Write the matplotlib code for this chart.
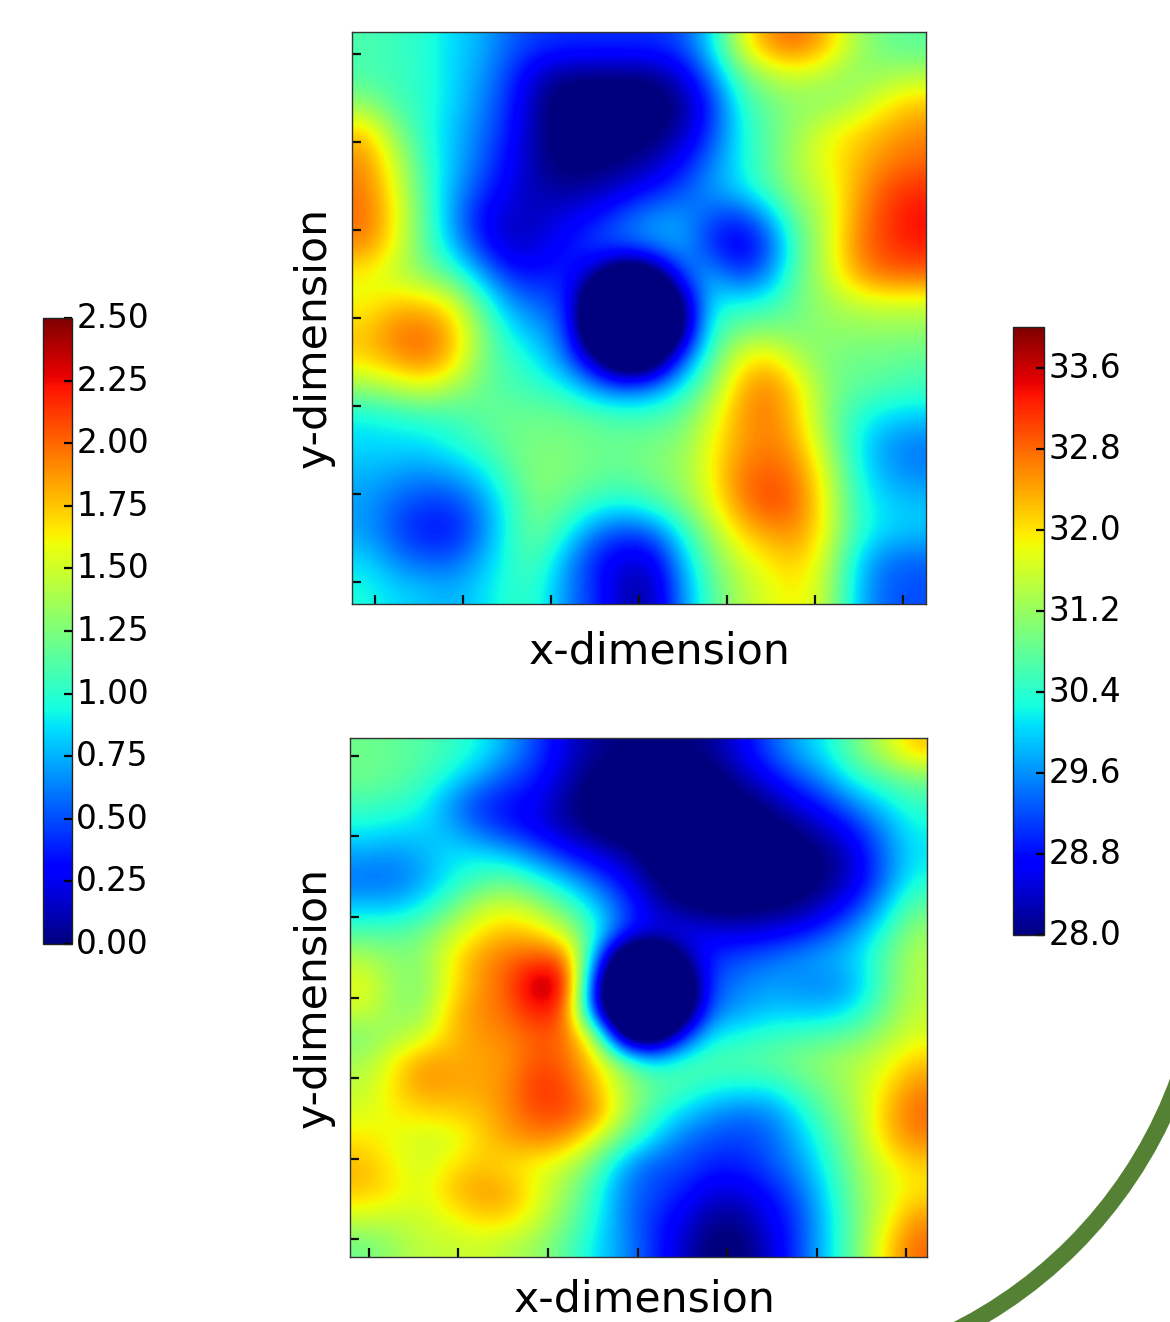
import matplotlib
matplotlib.use("Agg")
import matplotlib.pyplot as plt
from matplotlib.patches import Wedge
from matplotlib.transforms import ScaledTranslation
import numpy as np

W, H = 1170, 1322

top_field = [
 [1.1,1.05,1.0,.85,.75,.55,.45,.42,.42,.42,.42,.5,.85,1.5,1.9,2.0,1.8,1.4,1.2,1.15],
 [1.1,1.05,1.0,.85,.7,.45,.15,.02,0,0,.02,.2,.6,1.15,1.4,1.5,1.4,1.3,1.35,1.4],
 [1.3,1.1,1.0,.85,.65,.4,.05,-.1,-.1,-.1,-.1,.02,.4,.95,1.2,1.3,1.3,1.4,1.6,1.75],
 [1.75,1.3,1.0,.8,.6,.35,.05,-.1,-.1,-.1,-.05,.1,.45,.9,1.15,1.35,1.55,1.7,1.8,1.9],
 [1.9,1.5,1.05,.8,.55,.3,.05,-.05,-.05,0,.1,.3,.6,.9,1.15,1.4,1.6,1.75,1.9,2.0],
 [1.95,1.6,1.1,.75,.45,.25,.1,.05,.1,.2,.35,.5,.7,.85,1.1,1.35,1.5,1.8,2.05,2.15],
 [2.0,1.65,1.15,.7,.3,.15,.15,.25,.35,.55,.7,.7,.5,.4,.7,1.2,1.45,1.85,2.1,2.25],
 [1.9,1.6,1.15,.8,.4,.15,.2,.35,.5,.55,.65,.75,.4,.2,.45,1.1,1.45,1.9,2.1,2.2],
 [1.6,1.45,1.3,1.1,.75,.4,.35,.4,.05,-.5,-.3,.5,.75,.45,.65,1.15,1.45,1.8,2.0,2.0],
 [1.6,1.75,1.75,1.6,1.1,.7,.55,.45,-.6,-.8,-.8,-.1,.9,.95,1.0,1.2,1.35,1.45,1.5,1.5],
 [1.75,1.95,2.0,1.8,1.3,.9,.75,.5,-.6,-.8,-.8,-.1,1.0,1.25,1.3,1.25,1.3,1.3,1.3,1.3],
 [1.7,1.85,1.95,1.75,1.25,1.05,.9,.6,.1,-.5,-.3,.55,1.1,1.6,1.75,1.45,1.25,1.2,1.2,1.15],
 [1.3,1.4,1.5,1.35,1.2,1.1,1.05,.95,.7,.6,.7,.95,1.3,1.8,1.95,1.7,1.3,1.15,1.1,1.05],
 [.9,.95,1,1.05,1.15,1.2,1.2,1.2,1.15,1.1,1.1,1.2,1.5,1.85,1.95,1.75,1.3,1.0,.85,.8],
 [.85,.85,.85,.95,1.05,1.2,1.25,1.25,1.2,1.2,1.25,1.3,1.6,1.85,1.95,1.85,1.4,.95,.7,.6],
 [.75,.7,.65,.7,.85,1.1,1.3,1.25,1.2,1.15,1.25,1.35,1.6,1.95,2.05,1.95,1.55,1.0,.75,.65],
 [.7,.55,.45,.45,.65,1.0,1.25,1.15,1.0,.95,1.05,1.25,1.55,1.9,2.1,2.0,1.6,1.05,.85,.8],
 [.7,.5,.35,.35,.6,1.0,1.2,.95,.6,.45,.55,.95,1.35,1.7,1.85,1.9,1.6,1.05,.85,.8],
 [.85,.65,.55,.55,.75,1.0,1.1,.7,.35,.2,.2,.75,1.2,1.5,1.65,1.75,1.5,.9,.6,.55],
 [.95,.85,.8,.75,.85,1.0,1.0,.65,.4,.1,.1,.65,1.1,1.4,1.55,1.65,1.45,.85,.55,.5],
]

bottom_field = [
 [30.9,30.8,30.7,30.5,30.2,29.7,29.1,28.5,28.1,28,28,28,28.1,28.6,29.2,29.8,30.2,30.9,31.5,32.2],
 [30.9,30.8,30.6,30.2,29.7,29.2,28.9,28.3,27.9,27.8,27.8,27.8,27.8,28.2,28.7,29.2,29.7,30.4,30.7,31.0],
 [30.6,30.5,30.3,29.6,29.0,28.8,28.6,28.1,27.8,27.7,27.7,27.7,27.7,27.8,28.1,28.6,29.0,29.6,30.1,30.5],
 [30.2,30.1,30,29.8,29.3,28.9,28.6,28.2,27.9,27.7,27.7,27.7,27.7,27.7,27.8,28.0,28.4,28.9,29.6,30.2],
 [29.7,29.6,29.8,30.1,30.1,29.9,29.4,28.9,28.5,28.2,27.8,27.7,27.7,27.7,27.7,27.8,28.0,28.5,29.4,30.1],
 [29.4,29.4,29.7,30.2,30.6,30.8,30.4,29.9,29.3,28.7,28.0,27.7,27.7,27.7,27.7,27.8,28.0,28.5,29.4,30.3],
 [29.9,29.9,30.2,30.8,31.5,31.7,31.3,30.7,30,29.2,28.4,28.0,27.8,27.8,27.9,28.0,28.4,29.0,29.9,30.8],
 [30.7,30.7,30.9,31.5,32.0,32.3,32.1,31.5,30.4,29.0,28.6,28.7,28.6,28.5,28.6,28.8,29.2,29.7,30.4,31.2],
 [31.4,31.1,31.1,31.9,32.5,32.8,33.0,32.9,29.5,26.8,26.5,28.0,29,29.2,29.4,29.6,29.8,30,30.7,31.4],
 [31.8,31.2,31.0,31.9,32.5,32.9,33.9,33.5,28.4,26,26,26.8,29.2,29.5,29.7,29.6,29.5,29.8,30.7,31.4],
 [31.6,31.2,31.1,32.2,32.6,32.8,33.4,33.0,28.6,26,26,27,29.4,29.7,29.9,29.9,29.9,30.2,30.9,31.5],
 [31.0,31.3,31.6,32.2,32.5,32.6,32.9,32.8,31.4,27.5,27,28.8,30.2,30.3,30.5,30.6,30.7,30.9,31.3,31.7],
 [31.3,31.9,32.5,32.4,32.4,32.5,33.0,32.8,32.1,31,30.2,30.6,30.7,30.7,30.8,31,31.2,31.4,31.7,32.2],
 [31.5,32,32.5,32.4,32.4,32.6,33.2,33.0,32.3,31.4,30.8,30.6,30.3,30.2,30.2,30.6,31,31.4,32,32.6],
 [31.7,31.9,32,32.1,32.2,32.6,33,33,32.6,31.4,30.5,30,29.6,29.4,29.5,30.1,30.8,31.3,32.2,32.8],
 [32,31.8,31.6,31.6,32.1,32.4,32.6,32.4,31.6,30.7,30,29.4,29.2,29.1,29.3,29.8,30.5,31.2,32.1,32.6],
 [32.3,31.9,31.6,32.0,32.2,32.0,31.8,31.5,30.8,29.7,29.2,29.2,28.9,28.9,29.2,29.6,30.3,31.1,31.7,32.1],
 [32.2,32,31.7,32.2,32.5,32.4,31.8,31.2,30.4,29.5,29.2,28.9,28.5,28.5,28.8,29.3,30.1,31,31.6,32],
 [31.6,31.5,31.6,31.8,32.1,32.1,31.6,31,30.3,29.5,29,28.6,28.1,28.1,28.6,29.1,30,30.9,31.7,32.5],
 [30.9,31.2,31.5,31.5,31.6,31.4,31.2,30.7,30.1,29.6,29,28.4,27.9,27.9,28.4,29.1,30,30.9,32,32.8],
]

left_ticks = [0.00,0.25,0.50,0.75,1.00,1.25,1.50,1.75,2.00,2.25,2.50]
right_ticks = [28.0,28.8,29.6,30.4,31.2,32.0,32.8,33.6]
xlabel = "x-dimension"
ylabel = "y-dimension"
grid_ticks = [0,10,20,30,40,50,60]

def box(x0, y0, x1, y1):
    return [x0/W, 1-y1/H, (x1-x0)/W, (y1-y0)/H]

fig = plt.figure(figsize=(W/100, H/100), dpi=100, facecolor="white")

bg = fig.add_axes([0,0,1,1], zorder=0)
bg.set_xlim(0, W); bg.set_ylim(H, 0); bg.axis("off")
bg.add_patch(Wedge((750.7, 923.8), 464, 0, 90, width=17, facecolor="#558135", edgecolor="none"))

def panel(rect, field, vmin, vmax, ext, xlab_xy, ylab_xy):
    ax = fig.add_axes(box(*rect), zorder=2)
    im = ax.imshow(field, cmap="jet", vmin=vmin, vmax=vmax, extent=ext,
                   origin="upper", aspect="auto", interpolation="bicubic")
    ax.set_xticks(grid_ticks); ax.set_yticks(grid_ticks)
    ax.tick_params(direction="in", length=6.5, width=1.6, color="#101010",
                   labelbottom=False, labelleft=False)
    for s in ax.spines.values():
        s.set_linewidth(1.0); s.set_color("#333333")
    fig.text(xlab_xy[0]/W, 1-xlab_xy[1]/H, xlabel, fontsize=30.7, ha="center", va="center",
             family="DejaVu Sans", color="black")
    fig.text(ylab_xy[0]/W, 1-ylab_xy[1]/H, ylabel, fontsize=30.7, ha="center", va="center",
             rotation=90, family="DejaVu Sans", color="black")
    return im

im_top = panel((352,32,926,604), top_field, 0, 2.5,
               (-2.6, 62.6, -2.5, 62.5), (660,652), (314,337))
im_bot = panel((350,738,927,1257), bottom_field, 28, 34,
               (-2.1, 62.3, -2.2, 62.2), (645,1299), (314,997))

def cbar(rect, im, ticks, fmt):
    cax = fig.add_axes(box(*rect), zorder=2)
    cb = fig.colorbar(im, cax=cax, ticks=ticks, format=fmt)
    cb.ax.tick_params(direction="in", length=6, width=1.6, labelsize=23.5, pad=3, color="black")
    cb.outline.set_linewidth(1.0); cb.outline.set_edgecolor("#222222")
    shift = ScaledTranslation(0, 3/72*0.72, fig.dpi_scale_trans)
    for lab in cb.ax.get_yticklabels():
        lab.set_transform(lab.get_transform() + shift)
    return cb

cbar((43,318,72,944), im_top, left_ticks, "%.2f")
cbar((1013,327,1044,935), im_bot, right_ticks, "%.1f")

fig.savefig("out.png", dpi=100)
